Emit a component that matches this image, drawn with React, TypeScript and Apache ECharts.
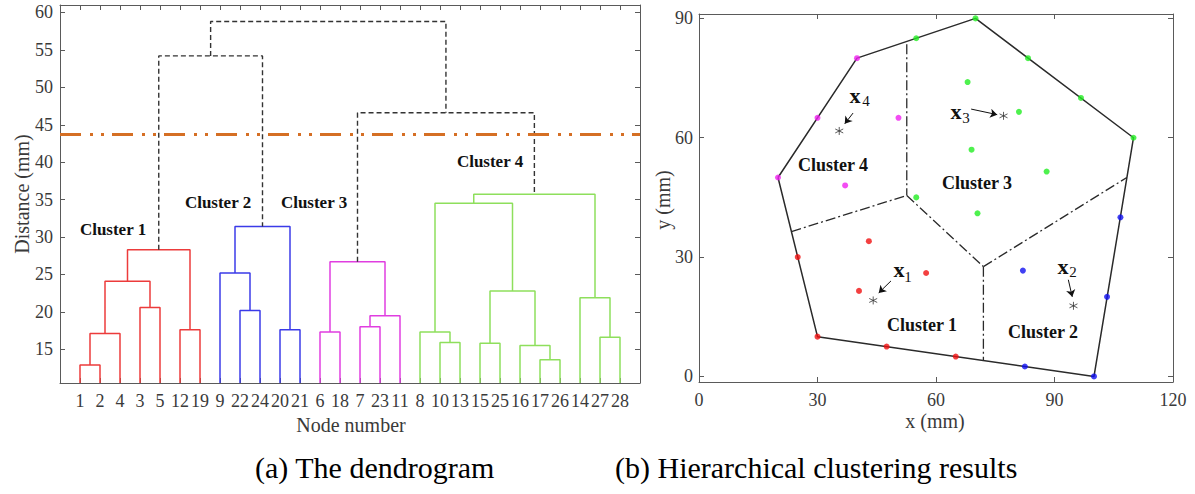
import React, { useEffect, useRef } from "react";
import * as echarts from "echarts";

// ---------- Dendrogram data ----------
const leafLabels = ["1","2","4","3","5","12","19","9","22","24","20","21","6","18","7","23","11","8","10","13","15","25","16","17","26","14","27","28"];
// positive = leaf position (1-based), negative = -(merge index + 1)
const mergeLeft = [1, -1, 4, -2, 6, -4, 9, 8, 11, -8, 13, 15, -12, -11, 19, 18, 21, 24, 23, -17, -16, 27, 26, -21, -6, -14, -25];
const mergeRight = [2, 3, 5, -3, 7, -5, 10, -7, 12, -9, 14, 16, 17, -13, 20, -15, 22, 25, -18, -19, -20, 28, -22, -23, -10, -24, -26];
const mergeHeight = [12.9, 17.1, 20.6, 24.1, 17.6, 28.3, 20.2, 25.2, 17.6, 31.4, 17.3, 18.0, 19.5, 26.7, 15.9, 17.3, 15.8, 13.6, 15.5, 22.8, 34.5, 16.6, 21.9, 35.7, 54.2, 46.6, 58.8];
const mergeCluster = [0, 0, 0, 0, 0, 0, 1, 1, 1, 1, 2, 2, 2, 2, 3, 3, 3, 3, 3, 3, 3, 3, 3, 3, 4, 4, 4];
const distanceTicks = [15, 20, 25, 30, 35, 40, 45, 50, 55, 60];
const cutHeight = 43.7;
const dendroLabels = ["Cluster 1", "Cluster 2", "Cluster 3", "Cluster 4"];

// ---------- Clustering result data ----------
const cluster1Points = [[25, 30], [30, 10], [47.5, 7.5], [65, 5], [43, 34], [40.5, 21.5], [57.5, 26]];
const cluster2Points = [[82.5, 2.5], [100, 0], [103.3, 20], [106.7, 40], [82, 26.6]];
const cluster3Points = [[55, 85], [70, 90], [83.3, 80], [96.7, 70], [110, 60], [55, 45], [68, 74], [81, 66.5], [69, 57], [88, 51.5], [70.5, 41]];
const cluster4Points = [[20, 50], [30, 65], [40, 80], [50.5, 65], [37, 48]];
const hullVertices = [[20, 50], [40, 80], [70, 90], [110, 60], [100, 0], [30, 10], [20, 50]];
const partitionLines = [
  [[52.6, 83.5], [52.6, 45.5]],
  [[23.4, 36.4], [52.6, 45.5]],
  [[52.6, 45.5], [72, 27.6]],
  [[72, 27.6], [72, 4]],
  [[72, 27.6], [108.3, 50]],
];
const centroids = [[44.1, 19.1], [94.8, 17.75], [77.1, 65.5], [35.5, 61.7]];
const arrowTails = [[48.6, 24.0], [93.5, 24.3], [68.9, 67.2], [39.0, 66.2]];
const arrowHeads = [[45.5, 21.0], [94.5, 20.0], [75.5, 65.8], [36.9, 63.5]];
const xyTicks = [0, 30, 60, 90];

const SERIF = "'Liberation Serif', 'Times New Roman', serif";
const clusterLineColors = ["#EC3B3B", "#3B3BE8", "#E03EE0", "#8EDF5C", "#333333"];
const AXIS = "#5a5a5a";
const TXT = "#3a3a3a";

function buildDendrogram() {
  const yMin = 10.5;
  const mx: number[] = [];
  const pos = (r: number) => (r > 0 ? r : mx[-r - 1]);
  const hgt = (r: number) => (r > 0 ? yMin : mergeHeight[-r - 1]);
  const series: any[] = [];
  for (let i = 0; i < mergeHeight.length; i++) {
    const xl = pos(mergeLeft[i]);
    const xr = pos(mergeRight[i]);
    mx[i] = (xl + xr) / 2;
    const h = mergeHeight[i];
    const c = mergeCluster[i];
    series.push({
      type: "line",
      xAxisIndex: 0,
      yAxisIndex: 0,
      symbol: "none",
      silent: true,
      data: [[xl, hgt(mergeLeft[i])], [xl, h], [xr, h], [xr, hgt(mergeRight[i])]],
      lineStyle: {
        color: clusterLineColors[c],
        width: c === 4 ? 1.4 : 1.5,
        type: c === 4 ? [5, 3] : "solid",
      },
      z: 3,
    });
  }
  return series;
}

export default function App() {
  const ref = useRef<HTMLDivElement>(null);
  useEffect(() => {
    if (!ref.current) return;
    const chart = echarts.init(ref.current, undefined, { renderer: "svg" });
    const leafPositions = leafLabels.map((_, i) => i + 1);

    const axisCommon = {
      axisLine: { show: true, onZero: false, lineStyle: { color: AXIS, width: 1 } },
      splitLine: { show: false },
    };
    const labelStyle = { color: TXT, fontFamily: SERIF, fontSize: 18 };

    const series: any[] = buildDendrogram();
    series.push({
      type: "line",
      xAxisIndex: 0,
      yAxisIndex: 0,
      symbol: "none",
      silent: true,
      data: [[0, cutHeight], [29, cutHeight]],
      lineStyle: { color: "#D56F24", width: 3, type: [21, 9, 3, 8, 3, 8], cap: "butt" },
      z: 4,
    });

    // right plot
    series.push({
      type: "line",
      xAxisIndex: 2,
      yAxisIndex: 2,
      symbol: "none",
      silent: true,
      data: hullVertices,
      lineStyle: { color: "#2a2a2a", width: 1.5 },
      z: 2,
    });
    partitionLines.forEach((seg) => {
      series.push({
        type: "line",
        xAxisIndex: 2,
        yAxisIndex: 2,
        symbol: "none",
        silent: true,
        data: seg,
        lineStyle: { color: "#2a2a2a", width: 1.3, type: [10, 3, 2, 3] },
        z: 2,
      });
    });
    const pointSets = [cluster1Points, cluster2Points, cluster3Points, cluster4Points];
    const pointColors = ["#F01010", "#1010F0", "#22EE22", "#F020F0"];
    pointSets.forEach((pts, k) => {
      series.push({
        type: "scatter",
        xAxisIndex: 2,
        yAxisIndex: 2,
        symbol: "circle",
        symbolSize: 6,
        silent: true,
        data: pts,
        itemStyle: { color: pointColors[k] },
        z: 5,
      });
    });
    series.push({
      type: "scatter",
      xAxisIndex: 2,
      yAxisIndex: 2,
      symbol: "path://M5 0 L5 10 M0.67 2.5 L9.33 7.5 M0.67 7.5 L9.33 2.5",
      symbolSize: 8,
      silent: true,
      data: centroids,
      itemStyle: { color: "transparent", borderColor: "#333", borderWidth: 1 },
      z: 5,
    });
    series.push({
      type: "lines",
      coordinateSystem: "cartesian2d",
      xAxisIndex: 2,
      yAxisIndex: 2,
      silent: true,
      symbol: ["none", "arrow"],
      symbolSize: 7,
      data: arrowTails.map((t, i) => ({ coords: [t, arrowHeads[i]] })),
      lineStyle: { color: "#111", width: 1, opacity: 1 },
      z: 6,
    });

    const boldText = (text: string, x: number, y: number, size: number) => ({
      type: "text",
      x,
      y,
      style: { text, fill: "#111", font: `bold ${size}px ${SERIF}`, align: "center", verticalAlign: "middle" },
    });
    const plainText = (text: string, x: number, y: number, size: number, color: string, rot = 0, align = "center") => ({
      type: "text",
      x,
      y,
      rotation: rot,
      style: { text, fill: color, font: `${size}px ${SERIF}`, align, verticalAlign: "middle" },
    });

    const graphic: any[] = [
      boldText(dendroLabels[0], 113, 229, 17),
      boldText(dendroLabels[1], 218, 202, 17),
      boldText(dendroLabels[2], 314, 202, 17),
      boldText(dendroLabels[3], 490, 161, 17),
      plainText("Distance (mm)", 22, 194, 20, TXT, Math.PI / 2),
      plainText("Node number", 351, 425, 20, TXT),
      boldText("Cluster 4", 833, 165, 18),
      boldText("Cluster 3", 977, 183, 18),
      boldText("Cluster 1", 922, 325, 18),
      boldText("Cluster 2", 1043, 332, 18),
      plainText("y (mm)", 663, 200, 20, TXT, Math.PI / 2),
      plainText("x (mm)", 935, 421, 20, TXT),
      boldText("x", 855, 95, 22),
      plainText("4", 866, 101, 15, "#111"),
      boldText("x", 956, 111, 22),
      plainText("3", 966, 118, 15, "#111"),
      boldText("x", 899, 269, 22),
      plainText("1", 908, 277, 15, "#111"),
      boldText("x", 1063, 266, 22),
      plainText("2", 1073, 272, 15, "#111"),
      plainText("(a) The dendrogram", 255, 467, 30, "#000", 0, "left"),
      plainText("(b) Hierarchical clustering results", 615, 467, 30, "#000", 0, "left"),
    ];

    chart.setOption({
      animation: false,
      backgroundColor: "#ffffff",
      grid: [
        { left: 60, top: 5, width: 580, height: 378 },
        { left: 699, top: 14, width: 474, height: 368 },
      ],
      xAxis: [
        {
          gridIndex: 0, type: "value", min: 0, max: 29, position: "bottom", ...axisCommon,
          axisTick: { show: true, inside: true, length: 5, customValues: leafPositions, lineStyle: { color: AXIS } },
          axisLabel: { ...labelStyle, margin: 9, customValues: leafPositions, formatter: (v: number) => leafLabels[Math.round(v) - 1] ?? "" },
        },
        {
          gridIndex: 0, type: "value", min: 0, max: 29, position: "top", ...axisCommon,
          axisTick: { show: true, inside: true, length: 5, customValues: leafPositions, lineStyle: { color: AXIS } },
          axisLabel: { show: false },
        },
        {
          gridIndex: 1, type: "value", min: 0, max: 120, interval: 30, position: "bottom", ...axisCommon,
          axisTick: { show: true, inside: true, length: 5, lineStyle: { color: AXIS } },
          axisLabel: { ...labelStyle, margin: 9 },
        },
        {
          gridIndex: 1, type: "value", min: 0, max: 120, interval: 30, position: "top", ...axisCommon,
          axisTick: { show: true, inside: true, length: 5, lineStyle: { color: AXIS } },
          axisLabel: { show: false },
        },
      ],
      yAxis: [
        {
          gridIndex: 0, type: "value", min: 10.5, max: 61, position: "left", ...axisCommon,
          axisTick: { show: true, inside: true, length: 5, customValues: distanceTicks, lineStyle: { color: AXIS } },
          axisLabel: { ...labelStyle, margin: 7, customValues: distanceTicks },
        },
        {
          gridIndex: 0, type: "value", min: 10.5, max: 61, position: "right", ...axisCommon,
          axisTick: { show: true, inside: true, length: 5, customValues: distanceTicks, lineStyle: { color: AXIS } },
          axisLabel: { show: false },
        },
        {
          gridIndex: 1, type: "value", min: -1.4, max: 91.1, position: "left", ...axisCommon,
          axisTick: { show: true, inside: true, length: 5, customValues: xyTicks, lineStyle: { color: AXIS } },
          axisLabel: { ...labelStyle, margin: 6, customValues: xyTicks },
        },
        {
          gridIndex: 1, type: "value", min: -1.4, max: 91.1, position: "right", ...axisCommon,
          axisTick: { show: true, inside: true, length: 5, customValues: xyTicks, lineStyle: { color: AXIS } },
          axisLabel: { show: false },
        },
      ],
      series,
      graphic,
    });
    return () => chart.dispose();
  }, []);

  return (
    <div
      ref={ref}
      style={{ position: "fixed", left: 0, top: 0, width: 1195, height: 494, background: "#fff" }}
    />
  );
}
